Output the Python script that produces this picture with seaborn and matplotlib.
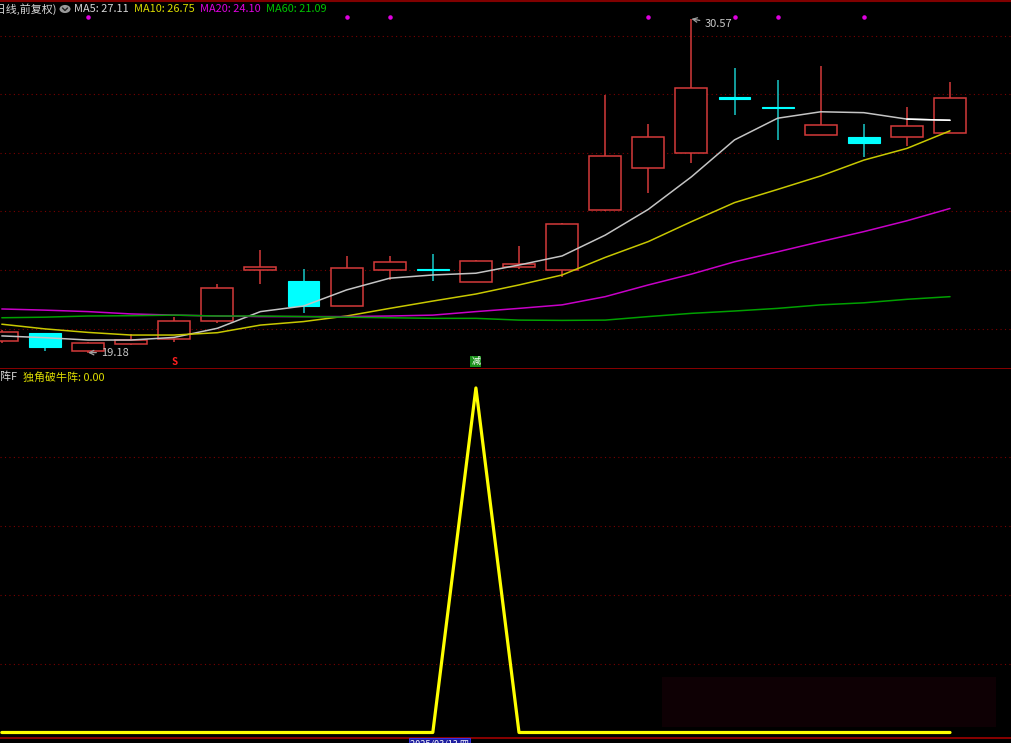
import numpy as np
import pandas as pd
import matplotlib
matplotlib.use('Agg')
import matplotlib.pyplot as plt
import matplotlib.transforms as mtransforms
from matplotlib.patches import Rectangle, Circle
import seaborn as sns

# daily candles (前复权)
opens  = [19.58, 19.85, 19.25, 19.48, 19.63, 20.26, 21.99, 21.63, 20.76, 21.99, 22.04, 21.60,
          22.11, 22.00, 24.05, 25.47, 25.98, 27.91, 27.55, 26.60, 26.55, 26.54, 26.67]
highs  = [19.95, 19.85, 19.55, 19.81, 20.40, 21.51, 22.68, 22.03, 22.48, 22.48, 22.55, 22.34,
          22.82, 23.61, 27.97, 26.98, 30.57, 28.90, 28.48, 28.96, 26.98, 27.57, 28.43]
lows   = [19.51, 19.23, 19.18, 19.44, 19.54, 20.19, 21.52, 20.53, 20.76, 21.66, 21.63, 21.60,
          22.02, 21.75, 24.01, 24.64, 25.64, 27.29, 26.44, 26.60, 25.87, 26.24, 26.67]
closes = [19.89, 19.36, 19.50, 19.61, 20.27, 21.38, 22.09, 20.76, 22.07, 22.26, 22.00, 22.32,
          22.19, 23.57, 25.89, 26.53, 28.20, 27.82, 27.52, 26.95, 26.34, 26.91, 27.86]

ma5  = [19.75, 19.69, 19.61, 19.61, 19.70, 20.01, 20.58, 20.77, 21.32, 21.72, 21.83, 21.89,
        22.17, 22.48, 23.19, 24.07, 25.18, 26.44, 27.18, 27.40, 27.37, 27.15, 27.11]
ma10 = [20.15, 19.99, 19.87, 19.78, 19.78, 19.86, 20.12, 20.24, 20.43, 20.69, 20.94, 21.18,
        21.49, 21.83, 22.43, 22.97, 23.65, 24.30, 24.75, 25.21, 25.75, 26.15, 26.75]
ma20 = [20.67, 20.63, 20.58, 20.50, 20.46, 20.43, 20.41, 20.41, 20.41, 20.43, 20.46, 20.58,
        20.69, 20.81, 21.09, 21.49, 21.86, 22.28, 22.62, 22.97, 23.31, 23.68, 24.10]
ma60 = [20.37, 20.39, 20.43, 20.44, 20.46, 20.43, 20.43, 20.41, 20.39, 20.37, 20.35, 20.35,
        20.29, 20.28, 20.29, 20.41, 20.52, 20.60, 20.69, 20.81, 20.88, 21.00, 21.09]

# 独角破牛阵 signal
signal = [0, 0, 0, 0, 0, 0, 0, 0, 0, 0, 0, 1, 0, 0, 0, 0, 0, 0, 0, 0, 0, 0, 0]

dot_idx = [2, 8, 9, 15, 17, 18, 20]
sell_idx = 4
jian_idx = 11
ma_names = ['MA5', 'MA10', 'MA20', 'MA60']
price_grid = [20, 22, 24, 26, 28, 30]
sig_grid = [0.2, 0.4, 0.6, 0.8]
date_label = '2025/03/13 四'

idx = np.arange(len(closes))
df = pd.DataFrame({'i': idx, 'open': opens, 'high': highs, 'low': lows, 'close': closes,
                   'MA5': ma5, 'MA10': ma10, 'MA20': ma20, 'MA60': ma60, 'sig': signal})

sns.set_style('dark', {'axes.facecolor': 'black', 'figure.facecolor': 'black'})
plt.rcParams['font.family'] = ['Noto Sans CJK SC', 'DejaVu Sans']

W, H = 1011, 743
fig = plt.figure(figsize=(W / 100, H / 100), dpi=100)
fig.patch.set_facecolor('black')

def fx(px):
    return px / W

def fy(py):
    return 1 - py / H

ax1 = fig.add_axes([0, fy(369), 1, 369 / H])
ax2 = fig.add_axes([0, fy(738), 1, 369 / H])

RED = '#d43a3a'
CYAN = '#00ffff'
ma_colors = {'MA5': '#c4c4c4', 'MA10': '#c8c800', 'MA20': '#c800c8', 'MA60': '#00a000'}
txt_colors = {'MA5': '#d8d8d8', 'MA10': '#dcdc00', 'MA20': '#e000e0', 'MA60': '#00c400'}
GRID = '#7a0000'

for ax in (ax1, ax2):
    ax.set_facecolor('black')
    ax.set_xlim(-0.042, 23.415)
    for s in ('left', 'right', 'top'):
        ax.spines[s].set_visible(False)
    ax.spines['bottom'].set_color('#a00000')
    ax.spines['bottom'].set_linewidth(1.2)
    ax.set_yticks([])
    ax.tick_params(axis='both', labelleft=False, labelbottom=False)

ax1.set_ylim(18.621, 31.215)
ax2.set_ylim(-0.016, 1.055)
ax1.set_xticks([])
ax2.set_xticks([2, 7, 12, 17, 22])
ax2.tick_params(axis='x', colors='#a00000', length=3, direction='out')

for g in price_grid:
    ax1.axhline(g, color=GRID, lw=0.8, ls=(0, (1, 3)), zorder=0)
for g in sig_grid:
    ax2.axhline(g, color=GRID, lw=0.8, ls=(0, (1, 3)), zorder=0)

# top border
fig.add_artist(plt.Line2D([0, 1], [fy(0.5), fy(0.5)], color='#800000', lw=1.5))

# candles
width = 0.74
for _, r in df.iterrows():
    up = r['close'] >= r['open']
    top, bot = max(r['open'], r['close']), min(r['open'], r['close'])
    wick_c = RED if up else '#18c8c8'
    ax1.vlines(r['i'], top, r['high'], color=wick_c, lw=1.1, zorder=3)
    ax1.vlines(r['i'], r['low'], bot, color=wick_c, lw=1.1, zorder=3)
    if up:
        ax1.bar(r['i'], top - bot, bottom=bot, width=width, facecolor='black',
                edgecolor=RED, linewidth=1.1, zorder=3)
    else:
        ax1.bar(r['i'], top - bot, bottom=bot, width=width, facecolor=CYAN,
                edgecolor=CYAN, linewidth=0.8, zorder=3)

for name in ma_names:
    sns.lineplot(data=df, x='i', y=name, ax=ax1, color=ma_colors[name], lw=1.1, zorder=4)
# latest MA5 segment is drawn brighter
sns.lineplot(data=df.iloc[-2:], x='i', y='MA5', ax=ax1, color='white', lw=1.1, zorder=4)
ax1.set_xlabel('')
ax1.set_ylabel('')

# top marker dots
trans1 = mtransforms.blended_transform_factory(ax1.transData, ax1.transAxes)
ax1.scatter(dot_idx, [0.954] * len(dot_idx), s=5, color='#e000e0', transform=trans1, zorder=5)

# signals under the price panel
ax1.text(sell_idx, 0.019, 'S', transform=trans1, color='#ff2020', fontsize=7,
         fontweight='bold', ha='center', va='center')
ax1.text(jian_idx, 0.021, '减', transform=trans1, color='white', fontsize=6.5,
         ha='center', va='center',
         bbox=dict(boxstyle='square,pad=0.12', facecolor='#1a8f1a', edgecolor='none'))

# high / low annotations
i_hi = int(np.argmax(highs))
i_lo = int(np.argmin(lows))
ax1.annotate(f'{highs[i_hi]:.2f}', xy=(i_hi, highs[i_hi]), xytext=(13, -5),
             textcoords='offset pixels', color='#c8c8c8', fontsize=8, ha='left', va='center',
             arrowprops=dict(arrowstyle='->', color='#a0a0a0', lw=0.9, shrinkA=1, shrinkB=0))
ax1.annotate(f'{lows[i_lo]:.2f}', xy=(i_lo, lows[i_lo]), xytext=(13, 0),
             textcoords='offset pixels', color='#c8c8c8', fontsize=8, ha='left', va='center',
             arrowprops=dict(arrowstyle='->', color='#a0a0a0', lw=0.9, shrinkA=1, shrinkB=0))

# indicator panel
sns.lineplot(data=df, x='i', y='sig', ax=ax2, color='#ffff00', lw=2.3, zorder=4)
ax2.set_xlabel('')
ax2.set_ylabel('')
ax2.add_patch(Rectangle((fx(662), fy(727)), fx(996) - fx(662), fy(677) - fy(727),
                        transform=fig.transFigure, facecolor='#0e0004', edgecolor='none', zorder=0.5))

# header texts
fs = 7.9
fig.text(fx(57), fy(9), '(日线,前复权)', color='#d8d8d8', fontsize=fs, ha='right', va='center')
fig.add_artist(Circle((fx(65), fy(9)), 5.5 / W, transform=fig.transFigure, facecolor='#9a9a9a',
                      edgecolor='none'))
fig.add_artist(plt.Line2D([fx(62.5), fx(65), fx(67.5)], [fy(8), fy(10.5), fy(8)],
                          color='#202020', lw=1.0))
ma_last = {'MA5': ma5[-1], 'MA10': ma10[-1], 'MA20': ma20[-1], 'MA60': ma60[-1]}
xpos = {'MA5': 74, 'MA10': 134, 'MA20': 200, 'MA60': 266}
for name in ma_names:
    fig.text(fx(xpos[name]), fy(9), f'{name}: {ma_last[name]:.2f}', color=txt_colors[name],
             fontsize=fs, ha='left', va='center')

fig.text(fx(0), fy(377), '阵F', color='#d8d8d8', fontsize=fs, ha='left', va='center')
fig.text(fx(23), fy(377), f'独角破牛阵: {signal[-1]:.2f}', color='#dcdc00', fontsize=fs,
         ha='left', va='center')

# date label under the axis (partly cut, as on screen)
fig.text(fx(410), fy(744), date_label, color='white', fontsize=6.5, ha='left', va='center',
         bbox=dict(boxstyle='square,pad=0.15', facecolor='#1c1ca0', edgecolor='#3a3aff', lw=0.6))

fig.savefig('out.png', dpi=100, facecolor='black')
